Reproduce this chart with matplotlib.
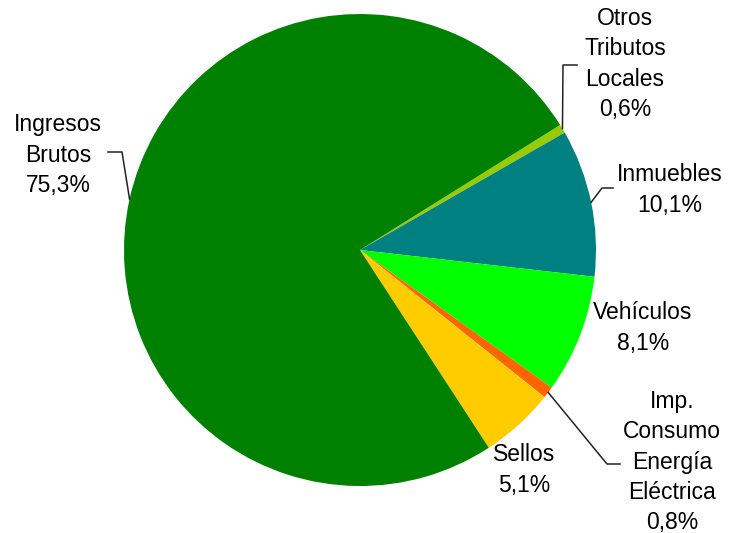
import numpy as np
import matplotlib
matplotlib.use("Agg")
import matplotlib.pyplot as plt

plt.rcParams['font.family'] = ['Liberation Sans', 'DejaVu Sans']

categories = ["Otros\nTributos\nLocales", "Inmuebles", "Vehículos",
              "Imp.\nConsumo\nEnergía\nEléctrica", "Sellos", "Ingresos\nBrutos"]
values = [0.6, 10.1, 8.1, 0.8, 5.1, 75.3]
pct_labels = ["0,6%", "10,1%", "8,1%", "0,8%", "5,1%", "75,3%"]
colors = ["#99CC00", "#008080", "#00FF00", "#FF6600", "#FFCC00", "#008000"]

W, H = 730, 533
fig = plt.figure(figsize=(W / 100, H / 100), dpi=100)
ax = fig.add_axes([0, 0, 1, 1])

cx, cy, R = 360, H - 250, 236
wedges, _ = ax.pie(values, colors=colors, startangle=32, counterclock=False,
                   center=(cx, cy), radius=R,
                   wedgeprops=dict(linewidth=0), frame=True)
ax.set_xlim(0, W)
ax.set_ylim(0, H)
ax.set_aspect('equal')
ax.axis('off')

# label positions (pixel coords from top-left) and leader elbows
label_pos = [(625, 64), (670, 190), (643, 328), (672, 462), (524, 470), (58, 155)]
elbows = {0: [(563, 65), (577, 65)],
          1: [(602, 188), (613, 188)],
          3: [(607, 464), (620, 464)],
          5: [(122, 152), (108, 152)]}

for i, (w, cat, pct) in enumerate(zip(wedges, categories, pct_labels)):
    lx, ly = label_pos[i]
    ax.text(lx, H - ly, cat + "\n" + pct, ha='center', va='center',
            fontsize=16.5, linespacing=1.40, color='black')
    if i in elbows:
        mid = np.deg2rad((w.theta1 + w.theta2) / 2)
        sx, sy = cx + R * np.cos(mid), cy + R * np.sin(mid)
        pts = [(sx, sy)] + [(x, H - y) for x, y in elbows[i]]
        xs, ys = zip(*pts)
        ax.plot(xs, ys, color='#222222', lw=1.1)

fig.savefig("out.png", dpi=100)
